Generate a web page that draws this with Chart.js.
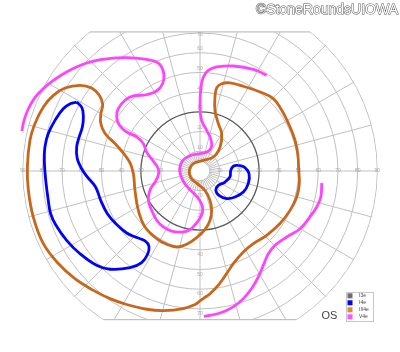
<!DOCTYPE html>
<html>
<head>
<meta charset="utf-8">
<script src="https://cdn.jsdelivr.net/npm/chart.js@4.4.1/dist/chart.umd.min.js"></script>
<style>
body{margin:0;background:#fff;}
</style>
</head>
<body>
<canvas id="field" width="400" height="352"></canvas>
<script>
// legend entries, in the order of the key box
const isopterNames = ["I3e", "I4e", "III4e", "V4e"];
const isopterColors = ["#666666", "#0000ff", "#c8661c", "#ff44ff"];
const swatchColors = ["#6e6e6e", "#0000ff", "#d98a3a", "#ff55ff"];

// grid: rings and axis numbers (degrees of eccentricity)
const ringDegrees = [5, 10, 20, 30, 40, 50, 60, 70, 80, 90];
const horizTicks = [10, 20, 30, 40, 50, 60, 70, 80, 90];
const vertTicks = [10, 20, 30, 40, 50, 60, 70];
const fieldTop = 70.6, fieldBottom = -75.5;

// isopters, [x, y] in degrees (x = right, y = up)
const i4eTemporal = [[-62.6,35.0],[-65.6,34.2],[-69.4,31.6],[-73.6,25.7],[-77.0,19.0],[-78.7,12.2],[-79.0,5.4],
  [-78.3,-4.7],[-77.0,-14.9],[-75.8,-21.7],[-73.1,-27.6],[-67.7,-35.2],[-60.9,-42.0],[-52.5,-47.9],[-45.7,-49.9],
  [-35.5,-49.1],[-29.6,-46.5],[-26.6,-42.3],[-25.9,-38.2],[-27.9,-35.5],[-32.1,-33.8],[-37.2,-31.5],[-42.3,-27.2],
  [-47.0,-21.7],[-50.4,-14.9],[-53.0,-8.1],[-57.2,-3.0],[-60.1,1.2],[-62.3,6.3],[-62.6,12.2],[-61.3,17.3],
  [-59.7,22.3],[-59.2,27.4],[-59.9,32.1],[-62.6,35.0]];
const i4eNasal = [[19.5,2.9],[22.8,1.7],[24.9,-1.4],[24.5,-6.4],[22.0,-10.7],[17.8,-13.2],[13.5,-14.0],[9.6,-12.4],
  [8.0,-9.8],[9.3,-7.3],[12.7,-5.6],[15.2,-3.0],[15.6,0.3],[16.9,2.4],[19.5,2.9]];
const iii4e = [[2.0,-64.5],[-0.3,-66.2],[-2.5,-67.8],[-8.5,-69.9],[-18.6,-70.9],[-27.1,-70.2],[-37.2,-67.8],
  [-45.7,-64.8],[-54.1,-60.6],[-63.5,-54.7],[-71.9,-47.0],[-79.5,-36.9],[-84.6,-23.4],[-87.1,-9.8],[-87.6,2.0],
  [-86.3,15.6],[-83.8,24.0],[-79.5,32.5],[-74.4,38.4],[-68.5,42.1],[-60.9,43.5],[-55.0,42.1],[-51.1,38.4],
  [-49.4,33.8],[-50.3,29.1],[-50.4,24.4],[-48.2,19.0],[-43.1,13.9],[-38.9,9.1],[-35.5,4.1],[-33.8,-1.4],
  [-33.0,-9.8],[-31.3,-20.0],[-27.9,-28.4],[-22.0,-34.3],[-16.9,-37.2],[-11.8,-38.6],[-6.8,-37.2],[-1.7,-33.8],
  [2.5,-29.8],[5.1,-25.0],[5.9,-20.0],[5.1,-14.9],[2.5,-9.8],[-1.4,-6.4],[-4.7,-3.4],[-5.4,0.3],[-3.4,3.7],
  [1.7,5.4],[6.8,7.1],[10.2,12.2],[11.0,19.0],[9.3,24.0],[7.6,30.8],[7.6,37.6],[8.5,42.3],[11.0,44.3],
  [15.2,44.7],[22.0,43.0],[30.5,40.1],[37.2,36.7],[41.5,30.8],[45.7,22.3],[48.2,15.6],[49.6,8.8],[50.1,0.3],
  [50.4,-6.4],[49.1,-13.2],[45.7,-20.0],[40.6,-26.7],[33.8,-32.7],[27.1,-36.9],[22.0,-41.1],[16.9,-47.0],
  [13.5,-52.1],[9.3,-58.0],[5.1,-62.3],[2.0,-64.5]];
const v4eUpper = [[-90.4,20.3],[-89.3,25.7],[-87.1,31.6],[-83.8,37.2],[-79.5,41.8],[-74.4,46.0],[-67.7,50.3],
  [-57.5,54.8],[-47.4,56.9],[-37.2,57.5],[-27.1,56.7],[-22.0,55.3],[-19.5,52.8],[-18.3,48.6],[-19.0,44.3],
  [-22.0,40.6],[-27.1,38.7],[-33.8,38.1],[-38.1,35.9],[-41.5,31.6],[-42.3,27.4],[-40.9,23.2],[-37.2,19.8],
  [-32.1,17.3],[-28.8,13.9],[-27.1,9.6],[-24.0,5.4],[-21.2,1.2],[-21.2,-2.2],[-22.8,-5.6],[-25.4,-9.8],
  [-26.2,-14.9],[-24.5,-20.0],[-22.0,-25.0],[-18.6,-28.4],[-14.4,-30.5],[-9.3,-31.0],[-5.1,-29.8],[-2.0,-26.7],
  [0.5,-23.0],[1.4,-19.6],[0.3,-15.7],[-2.2,-12.4],[-5.6,-9.0],[-8.5,-5.2],[-10.2,-0.5],[-9.3,4.6],[-5.4,7.6],
  [0,8.8],[4.2,10.0],[5.9,12.5],[5.4,16.4],[3.4,20.6],[0.8,25.7],[0,32.5],[0.5,42.6],[1.7,47.7],[4.2,51.1],
  [8.5,52.8],[16.9,53.3],[27.1,51.6],[33.8,48.6]];
const v4eLower = [[61.8,-6.1],[61.3,-13.2],[59.2,-18.3],[55.8,-23.3],[50.8,-29.3],[44.0,-33.5],[38.1,-37.7],
  [34.7,-42.0],[32.1,-47.9],[29.6,-53.8],[26.2,-59.7],[22.0,-64.8],[16.9,-69.0],[10.2,-72.1],[2.0,-73.8]];

function pts(list){ return list.map(p => ({x: p[0], y: p[1]})); }
function isopter(idx, list){
  return { label: isopterNames[idx], data: pts(list), borderColor: isopterColors[idx],
    backgroundColor: swatchColors[idx], showLine: true, borderWidth: 2.8, pointRadius: 0,
    tension: 0.4, fill: false };
}

const fieldGrid = {
  id: 'fieldGrid',
  beforeDatasetsDraw(chart){
    const {ctx, scales: {x, y}} = chart;
    const cx = x.getPixelForValue(0), cy = y.getPixelForValue(0);
    const k = x.getPixelForValue(1) - cx;
    const top = y.getPixelForValue(fieldTop), bot = y.getPixelForValue(fieldBottom);
    ctx.save();
    ctx.beginPath();
    ctx.arc(cx, cy, 90 * k + 0.6, 0, Math.PI * 2);
    ctx.clip();
    ctx.beginPath();
    ctx.rect(0, top, chart.width, bot - top);
    ctx.clip();
    ctx.strokeStyle = '#c0c0c0';
    ctx.lineWidth = 1;
    // meridians
    for (let a = 0; a < 360; a += 15) {
      const t = a * Math.PI / 180;
      ctx.beginPath();
      ctx.moveTo(cx + Math.cos(t) * 10 * k, cy - Math.sin(t) * 10 * k);
      ctx.lineTo(cx + Math.cos(t) * 110 * k, cy - Math.sin(t) * 110 * k);
      ctx.stroke();
    }
    for (let a = 0; a < 360; a += 7.5) {
      const t = a * Math.PI / 180;
      ctx.beginPath();
      ctx.moveTo(cx + Math.cos(t) * 5 * k, cy - Math.sin(t) * 5 * k);
      ctx.lineTo(cx + Math.cos(t) * 10 * k, cy - Math.sin(t) * 10 * k);
      ctx.stroke();
    }
    ringDegrees.forEach(r => {
      ctx.beginPath();
      ctx.arc(cx, cy, r * k, 0, Math.PI * 2);
      if (r == 30) { ctx.strokeStyle = '#5a5a5a'; ctx.lineWidth = 1.3; }
      else { ctx.strokeStyle = '#c0c0c0'; ctx.lineWidth = 1; }
      ctx.stroke();
    });
    ctx.restore();
    // flat top and bottom edges of the field
    ctx.save();
    ctx.strokeStyle = '#c0c0c0';
    ctx.lineWidth = 1.2;
    [fieldTop, fieldBottom].forEach(v => {
      const half = Math.sqrt(90 * 90 - v * v);
      ctx.beginPath();
      ctx.moveTo(x.getPixelForValue(-half), y.getPixelForValue(v));
      ctx.lineTo(x.getPixelForValue(half), y.getPixelForValue(v));
      ctx.stroke();
    });
    // degree numbers
    ctx.fillStyle = '#a8a8a8';
    ctx.font = '5px "Liberation Sans"';
    ctx.textAlign = 'center';
    ctx.textBaseline = 'middle';
    horizTicks.forEach(v => {
      ctx.fillText(String(v), x.getPixelForValue(-v), cy);
      ctx.fillText(String(v), x.getPixelForValue(v), cy);
    });
    vertTicks.forEach(v => {
      ctx.fillText(String(v), cx, Math.max(top + 3, y.getPixelForValue(v + 2)));
      ctx.fillText(String(v), cx, Math.min(bot - 4, y.getPixelForValue(-v - 2.5)));
    });
    ctx.restore();
  },
  afterDraw(chart){
    const ctx = chart.ctx;
    ctx.save();
    // key box
    ctx.fillStyle = '#fff';
    ctx.fillRect(346, 292, 27, 29);
    ctx.strokeStyle = '#c8c8c8';
    ctx.lineWidth = 1;
    ctx.strokeRect(346.5, 292.5, 27, 29);
    ctx.font = '5px "Liberation Sans"';
    ctx.textBaseline = 'middle';
    ctx.textAlign = 'left';
    isopterNames.forEach((n, i) => {
      const yy = 295.8 + i * 7;
      ctx.fillStyle = swatchColors[i];
      ctx.fillRect(347.5, yy - 2.5, 5, 5);
      ctx.fillStyle = '#444';
      ctx.fillText(n, 359, yy);
    });
    // eye label
    ctx.fillStyle = '#444';
    ctx.font = '11px "Liberation Sans"';
    ctx.fillText('OS', 321.5, 315.5);
    // credit line
    ctx.font = '14px "Liberation Sans"';
    ctx.textAlign = 'right';
    ctx.textBaseline = 'alphabetic';
    ctx.lineWidth = 1;
    ctx.strokeStyle = '#555';
    ctx.strokeText('\u00a9StoneRoundsUIOWA', 398, 13.5);
    ctx.fillStyle = '#fff';
    ctx.fillText('\u00a9StoneRoundsUIOWA', 398, 13.5);
    ctx.restore();
  }
};

new Chart(document.getElementById('field'), {
  type: 'scatter',
  data: {
    datasets: [
      { label: isopterNames[0], data: [], borderColor: isopterColors[0], backgroundColor: swatchColors[0], showLine: true, pointRadius: 0 },
      isopter(1, i4eTemporal),
      isopter(1, i4eNasal),
      isopter(2, iii4e),
      isopter(3, v4eUpper),
      isopter(3, v4eLower)
    ]
  },
  options: {
    responsive: false,
    animation: false,
    layout: { padding: 0 },
    scales: {
      x: { type: 'linear', min: -101.5, max: 101.5, display: false },
      y: { type: 'linear', min: -91.9, max: 86.8, display: false }
    },
    plugins: { legend: { display: false }, tooltip: { enabled: false } },
    clip: false
  },
  plugins: [fieldGrid]
});
</script>
</body>
</html>
